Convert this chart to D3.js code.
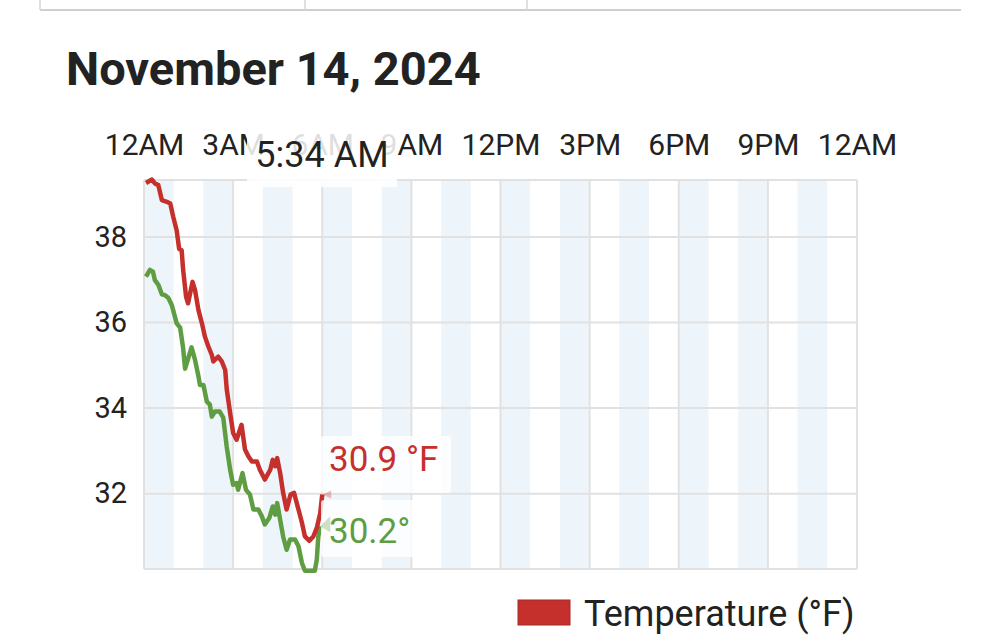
<!DOCTYPE html>
<html>
<head>
<meta charset="utf-8">
<script src="https://cdn.jsdelivr.net/npm/d3@7"></script>
<style>
  html, body { margin: 0; padding: 0; background: #fff; }
  svg { display: block; font-family: Roboto, "Noto Sans", sans-serif; }
</style>
</head>
<body>
<svg id="chart" width="1000" height="638"></svg>
<script>
// ---- data (minutes after midnight, °F) ----
const title = "November 14, 2024";
const xTickLabels = ["12AM", "3AM", "6AM", "9AM", "12PM", "3PM", "6PM", "9PM", "12AM"];
const xTickMinutes = [0, 180, 360, 540, 720, 900, 1080, 1260, 1440];
const yTicks = [32, 34, 36, 38];
const yDomain = [30.24, 39.33];

const tempMinutes = [4, 16, 22, 29, 36, 46, 53, 59, 66, 71, 76, 79, 85, 89, 98, 103, 110, 117, 123, 130, 137, 140, 150, 157, 164, 167, 174, 180, 187, 197, 204, 211, 218, 228, 234, 244, 255, 260, 265, 269, 275, 281, 288, 296, 303, 312, 319, 325, 334, 342, 349, 356, 360];
const tempValues  = [39.26, 39.34, 39.25, 39.21, 38.86, 38.82, 38.78, 38.47, 38.15, 37.72, 37.69, 37.23, 36.60, 36.45, 36.95, 36.76, 36.29, 35.98, 35.67, 35.44, 35.24, 35.09, 35.20, 35.09, 34.89, 34.45, 33.88, 33.42, 33.26, 33.61, 33.03, 32.87, 32.75, 32.75, 32.56, 32.33, 32.56, 32.79, 32.64, 32.83, 32.48, 32.02, 31.63, 31.98, 32.02, 31.63, 31.32, 31.00, 30.9, 31.00, 31.20, 31.55, 31.98];

const dewMinutes = [4, 12, 18, 22, 29, 36, 42, 49, 56, 66, 73, 79, 83, 96, 103, 110, 113, 120, 127, 133, 137, 143, 153, 160, 167, 174, 180, 187, 190, 199, 206, 214, 221, 231, 238, 244, 253, 260, 265, 269, 275, 281, 288, 295, 305, 312, 319, 325, 334, 345, 349, 352, 356];
const dewValues  = [37.07, 37.23, 37.19, 36.99, 36.88, 36.66, 36.64, 36.58, 36.41, 35.98, 35.88, 35.40, 34.92, 35.42, 35.13, 34.74, 34.54, 34.54, 34.15, 34.08, 33.80, 33.92, 33.92, 33.78, 33.10, 32.56, 32.21, 32.25, 32.09, 32.48, 32.09, 31.98, 31.63, 31.63, 31.47, 31.28, 31.43, 31.70, 31.51, 31.78, 31.39, 31.00, 30.69, 30.93, 30.93, 30.77, 30.38, 30.2, 30.2, 30.2, 30.46, 31.0, 31.24];

const hoverLabel = "5:34 AM";
const hoverTemp = "30.9 °F";
const hoverDew = "30.2°";
const legendLabel = "Temperature (°F)";

// ---- layout ----
const svg = d3.select("#chart");
const pL = 144, pR = 857, pT = 180, pB = 569;
const RED = "#c5302c", GREEN = "#5f9d43", GRID = "#e1e1e1", TEXT = "#222";

svg.append("rect").attr("width", 1000).attr("height", 638).attr("fill", "#fff");

// table remnant at top
svg.append("line").attr("x1", 40).attr("x2", 961).attr("y1", 10).attr("y2", 10)
  .attr("stroke", "#cfcfcf").attr("stroke-width", 2);
[40, 305, 527].forEach(xx => svg.append("line").attr("x1", xx).attr("x2", xx)
  .attr("y1", 0).attr("y2", 10).attr("stroke", "#d6d6d6").attr("stroke-width", 1.5));

svg.append("text").attr("x", 66).attr("y", 85).text(title)
  .attr("font-size", 47).attr("font-weight", 700).attr("fill", TEXT);

const x = d3.scaleLinear().domain([0, 1440]).range([pL, pR]);
const y = d3.scaleLinear().domain(yDomain).range([pB, pT]);

// alternating hour bands
const bandHours = d3.range(0, 24, 2);
svg.append("g").selectAll("rect").data(bandHours).join("rect")
  .attr("x", h => x(h * 60)).attr("width", h => x((h + 1) * 60) - x(h * 60))
  .attr("y", pT).attr("height", pB - pT).attr("fill", "#eef5fa");

// grid
const grid = svg.append("g").attr("stroke", GRID).attr("stroke-width", 2);
grid.selectAll("line.v").data(xTickMinutes).join("line").attr("class", "v")
  .attr("x1", d => x(d)).attr("x2", d => x(d)).attr("y1", pT).attr("y2", pB);
grid.selectAll("line.h").data([yDomain[0], ...yTicks, yDomain[1]]).join("line").attr("class", "h")
  .attr("x1", pL).attr("x2", pR).attr("y1", d => y(d)).attr("y2", d => y(d));

// axes labels
const xAxis = d3.axisTop(x).tickValues(xTickMinutes)
  .tickFormat((d, i) => xTickLabels[i]).tickSize(0).tickPadding(0);
const gx = svg.append("g").attr("transform", `translate(0,${155})`).call(xAxis);
gx.select(".domain").remove();
gx.selectAll("text").attr("font-size", 30).attr("fill", TEXT).attr("font-family", "Roboto").attr("dy", 0);

const yAxis = d3.axisLeft(y).tickValues(yTicks).tickFormat(d3.format("d")).tickSize(0).tickPadding(0);
const gy = svg.append("g").attr("transform", `translate(${127},0)`).call(yAxis);
gy.select(".domain").remove();
gy.selectAll("text").attr("font-size", 29).attr("fill", TEXT).attr("font-family", "Roboto");

// lines
const tempData = tempMinutes.map((m, i) => [m, tempValues[i]]);
const dewData = dewMinutes.map((m, i) => [m, dewValues[i]]);
const line = d3.line().x(d => x(d[0])).y(d => y(d[1]));
svg.append("path").datum(dewData).attr("d", line).attr("fill", "none")
  .attr("stroke", GREEN).attr("stroke-width", 4.5).attr("stroke-linejoin", "round");
svg.append("path").datum(tempData).attr("d", line).attr("fill", "none")
  .attr("stroke", RED).attr("stroke-width", 4.5).attr("stroke-linejoin", "round");

// hover tooltip (time)
svg.append("rect").attr("x", 247).attr("y", 127).attr("width", 150).attr("height", 60)
  .attr("fill", "#fff").attr("fill-opacity", 0.85);
svg.append("text").attr("x", 322).attr("y", 167).attr("text-anchor", "middle")
  .attr("font-size", 36).attr("fill", TEXT).text(hoverLabel);

// value labels
const endT = tempData[tempData.length - 1], endD = dewData[dewData.length - 1];
svg.append("rect").attr("x", 321).attr("y", 436).attr("width", 130).attr("height", 57)
  .attr("fill", "#fff").attr("fill-opacity", 0.8).attr("rx", 3);
svg.append("path").attr("d", `M${x(endT[0])},${y(endT[1])} l9,-4 l0,8 Z`)
  .attr("fill", RED).attr("fill-opacity", 0.3);
svg.append("text").attr("x", 329).attr("y", 471).attr("font-size", 35).attr("fill", RED).text(hoverTemp);

svg.append("rect").attr("x", 321).attr("y", 500).attr("width", 104).attr("height", 57)
  .attr("fill", "#fff").attr("fill-opacity", 0.8).attr("rx", 3);
svg.append("path").attr("d", `M${x(endD[0])},${y(endD[1])} l10,-10 l0,16 Z`)
  .attr("fill", GREEN).attr("fill-opacity", 0.3);
svg.append("text").attr("x", 329).attr("y", 543).attr("font-size", 35).attr("fill", GREEN).text(hoverDew);

// legend
svg.append("rect").attr("x", 518).attr("y", 600).attr("width", 52).attr("height", 25)
  .attr("fill", RED).attr("stroke", "#a52a26").attr("stroke-width", 1);
svg.append("text").attr("x", 584).attr("y", 626).attr("font-size", 36).attr("fill", TEXT).text(legendLabel);
</script>
</body>
</html>
